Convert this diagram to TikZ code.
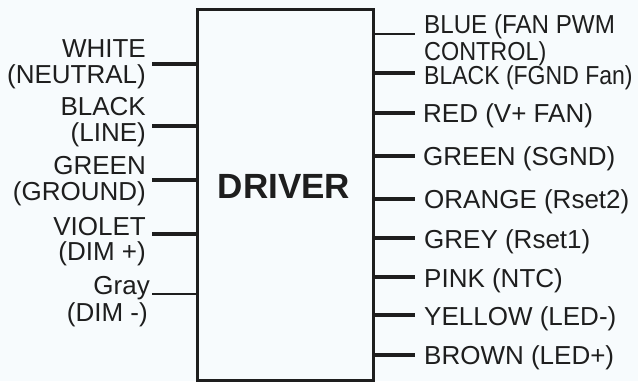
\documentclass[tikz,border=0pt]{standalone}
\usepackage{fontspec}
\setmainfont{Liberation Sans}
\definecolor{bg}{RGB}{247,251,253}
\definecolor{ink}{RGB}{30,30,30}
\tikzset{
  lbl/.style={inner sep=0pt, text=ink, font=\fontsize{26}{28}\selectfont},
  lead/.style={draw=ink, line width=3.2pt},
  leadthick/.style={draw=ink, line width=4pt},
  leadthin/.style={draw=ink, line width=2.4pt},
}
\begin{document}
\begin{tikzpicture}[x=1pt,y=-1pt]
\fill[bg] (0,0) rectangle (638,381);
\useasboundingbox (0,0) rectangle (638,381);
\node[draw=ink, line width=3.4pt, minimum width=176pt, minimum height=371pt, inner sep=0pt, anchor=north west] (box) at (196,8) {};
\node[inner sep=0pt, text=ink, font=\bfseries\fontsize{35}{38}\selectfont, anchor=base] (drv) at (284,198) {DRIVER};
% left labels
\node[lbl, anchor=base east] (l1a) at (146,57) {WHITE};
\node[lbl, anchor=base east] (l1b) at (146,83) {(NEUTRAL)};
\node[lbl, anchor=base east] (l2a) at (146,115) {BLACK};
\node[lbl, anchor=base east] (l2b) at (146,141) {(LINE)};
\node[lbl, anchor=base east] (l3a) at (146,174) {GREEN};
\node[lbl, anchor=base east] (l3b) at (146,200) {(GROUND)};
\node[lbl, anchor=base east] (l4a) at (146,235) {VIOLET};
\node[lbl, anchor=base east] (l4b) at (146,260) {(DIM +)};
\node[lbl, anchor=base east] (l5a) at (150,294) {Gray};
\node[lbl, anchor=base east] (l5b) at (148,321) {(DIM -)};
% left lead ends
\coordinate (le1) at (152,64);
\coordinate (le2) at (152,126);
\coordinate (le3) at (152,180);
\coordinate (le4) at (152,234);
\coordinate (le5) at (152,294);
\draw[leadthick] (le1) -- (le1 -| box.west);
\draw[leadthick] (le2) -- (le2 -| box.west);
\draw[leadthick] (le3) -- (le3 -| box.west);
\draw[leadthick] (le4) -- (le4 -| box.west);
\draw[leadthin] (le5) -- (le5 -| box.west);
% right lead ends
\coordinate (re1) at (415,34);
\coordinate (re2) at (415,73);
\coordinate (re3) at (415,113);
\coordinate (re4) at (415,156);
\coordinate (re5) at (415,199);
\coordinate (re6) at (415,238);
\coordinate (re7) at (415,277);
\coordinate (re8) at (415,315);
\coordinate (re9) at (415,355);
\draw[leadthin] (re1 -| box.east) -- (re1);
\draw[leadthick] (re2 -| box.east) -- (re2);
\draw[lead] (re3 -| box.east) -- (re3);
\draw[leadthick] (re4 -| box.east) -- (re4);
\draw[lead] (re5 -| box.east) -- (re5);
\draw[lead] (re6 -| box.east) -- (re6);
\draw[lead] (re7 -| box.east) -- (re7);
\draw[lead] (re8 -| box.east) -- (re8);
\draw[lead] (re9 -| box.east) -- (re9);
% right labels
\node[lbl, anchor=base west] (r1a) at (424,33) {\scalebox{0.93}[1]{BLUE (FAN PWM}};
\node[lbl, anchor=base west] (r1b) at (424,60) {\scalebox{0.9}[1]{CONTROL)}};
\node[lbl, anchor=base west] (r2) at (424,84) {\scalebox{0.885}[1]{BLACK (FGND Fan)}};
\node[lbl, anchor=base west] (r3) at (423,122) {RED (V+ FAN)};
\node[lbl, anchor=base west] (r4) at (423,165) {GREEN (SGND)};
\node[lbl, anchor=base west] (r5) at (424,208) {ORANGE (Rset2)};
\node[lbl, anchor=base west] (r6) at (424,248) {GREY (Rset1)};
\node[lbl, anchor=base west] (r7) at (424,287) {PINK (NTC)};
\node[lbl, anchor=base west] (r8) at (424,325) {YELLOW (LED-)};
\node[lbl, anchor=base west] (r9) at (424,364) {BROWN (LED+)};
\end{tikzpicture}
\end{document}
